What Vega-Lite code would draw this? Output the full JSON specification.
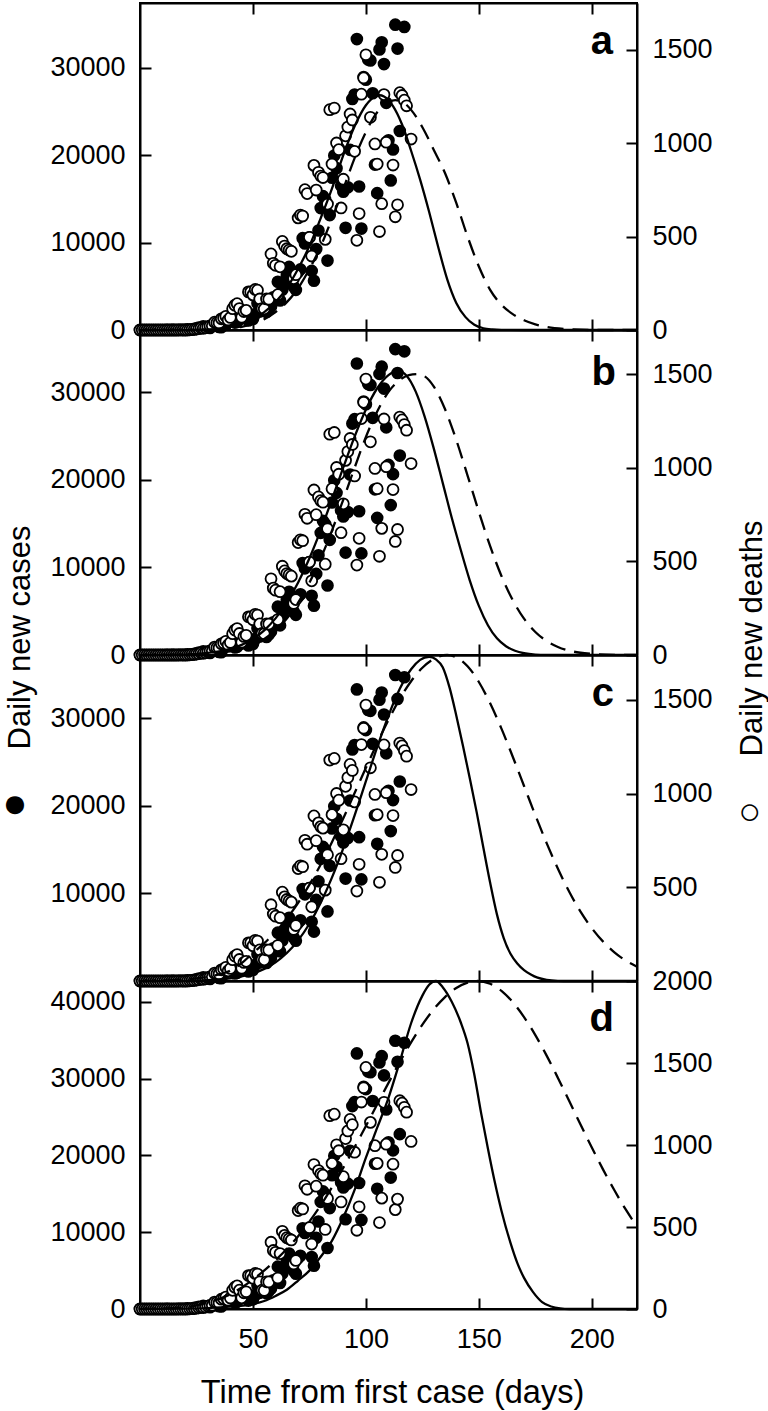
{
"$schema": "https://vega.github.io/schema/vega-lite/v6.json",
"padding": {"left": 0, "top": 1, "right": 0, "bottom": 0},
"background": "white",
"bounds": "flush",
"spacing": 0,
"config": {
  "font": "Liberation Sans",
  "view": {"stroke": "black", "strokeWidth": 2},
  "axis": {"grid": false, "domainColor": "black", "domainWidth": 2, "tickColor": "black", "tickWidth": 2, "tickSize": -11, "labelFont": "Liberation Sans", "labelFontSize": 27, "labelColor": "black", "labelPadding": 26, "labelFlush": false, "labelOverlap": false, "titleFont": "Liberation Sans", "titleFontSize": 31, "titleFontWeight": "normal", "titleColor": "black"},
  "axisBottom": {"labelPadding": 28},
  "text": {"font": "Liberation Sans", "fontSize": 40, "fontWeight": "bold", "color": "black", "align": "right", "baseline": "alphabetic"}
},
"datasets": {
"cases": [{"day":0,"cases":0},{"day":1,"cases":0},{"day":2,"cases":1},{"day":3,"cases":0},{"day":4,"cases":0},{"day":5,"cases":0},{"day":6,"cases":1},{"day":7,"cases":0},{"day":8,"cases":0},{"day":9,"cases":0},{"day":10,"cases":1},{"day":11,"cases":0},{"day":12,"cases":9},{"day":13,"cases":5},{"day":14,"cases":6},{"day":15,"cases":6},{"day":16,"cases":0},{"day":17,"cases":19},{"day":18,"cases":25},{"day":19,"cases":21},{"day":20,"cases":23},{"day":21,"cases":79},{"day":22,"cases":34},{"day":23,"cases":57},{"day":24,"cases":137},{"day":25,"cases":193},{"day":26,"cases":283},{"day":27,"cases":224},{"day":28,"cases":418},{"day":29,"cases":345},{"day":30,"cases":310},{"day":31,"cases":232},{"day":32,"cases":482},{"day":33,"cases":502},{"day":34,"cases":487},{"day":35,"cases":352},{"day":36,"cases":323},{"day":37,"cases":1138},{"day":38,"cases":1119},{"day":39,"cases":1074},{"day":40,"cases":1146},{"day":41,"cases":1222},{"day":42,"cases":852},{"day":43,"cases":926},{"day":44,"cases":1661},{"day":45,"cases":2210},{"day":46,"cases":1930},{"day":47,"cases":1781},{"day":48,"cases":1089},{"day":49,"cases":1442},{"day":50,"cases":1261},{"day":51,"cases":1832},{"day":52,"cases":3058},{"day":53,"cases":2105},{"day":54,"cases":3257},{"day":55,"cases":2917},{"day":56,"cases":2055},{"day":57,"cases":2336},{"day":58,"cases":2678},{"day":59,"cases":3735},{"day":60,"cases":3503},{"day":61,"cases":5514},{"day":62,"cases":3379},{"day":63,"cases":4613},{"day":64,"cases":5385},{"day":65,"cases":6276},{"day":66,"cases":7218},{"day":67,"cases":6209},{"day":68,"cases":4970},{"day":69,"cases":4588},{"day":70,"cases":6633},{"day":71,"cases":6935},{"day":72,"cases":10503},{"day":73,"cases":9888},{"day":74,"cases":10222},{"day":75,"cases":10611},{"day":76,"cases":6760},{"day":77,"cases":5632},{"day":78,"cases":9258},{"day":79,"cases":11385},{"day":80,"cases":13944},{"day":81,"cases":15305},{"day":82,"cases":14919},{"day":83,"cases":7938},{"day":84,"cases":13140},{"day":85,"cases":17408},{"day":86,"cases":19951},{"day":87,"cases":18508},{"day":88,"cases":20803},{"day":89,"cases":16508},{"day":90,"cases":15813},{"day":91,"cases":11687},{"day":92,"cases":16324},{"day":93,"cases":20599},{"day":94,"cases":26417},{"day":95,"cases":26928},{"day":96,"cases":33274},{"day":97,"cases":16409},{"day":98,"cases":11598},{"day":99,"cases":28936},{"day":100,"cases":28633},{"day":101,"cases":30925},{"day":102,"cases":30830},{"day":103,"cases":27075},{"day":104,"cases":18912},{"day":105,"cases":15654},{"day":106,"cases":32091},{"day":107,"cases":32913},{"day":108,"cases":30412},{"day":109,"cases":25982},{"day":110,"cases":21704},{"day":111,"cases":17110},{"day":112,"cases":20647},{"day":113,"cases":34918},{"day":114,"cases":32188},{"day":115,"cases":22765},{"day":117,"cases":34666}],
"deaths": [{"day":0,"deaths":0},{"day":1,"deaths":0},{"day":2,"deaths":0},{"day":3,"deaths":0},{"day":4,"deaths":0},{"day":5,"deaths":0},{"day":6,"deaths":0},{"day":7,"deaths":0},{"day":8,"deaths":0},{"day":9,"deaths":0},{"day":10,"deaths":0},{"day":11,"deaths":0},{"day":12,"deaths":0},{"day":13,"deaths":0},{"day":14,"deaths":0},{"day":15,"deaths":0},{"day":16,"deaths":0},{"day":17,"deaths":0},{"day":18,"deaths":0},{"day":19,"deaths":0},{"day":20,"deaths":0},{"day":21,"deaths":0},{"day":22,"deaths":1},{"day":23,"deaths":3},{"day":24,"deaths":3},{"day":25,"deaths":5},{"day":26,"deaths":7},{"day":27,"deaths":11},{"day":28,"deaths":9},{"day":29,"deaths":12},{"day":30,"deaths":18},{"day":31,"deaths":22},{"day":32,"deaths":23},{"day":33,"deaths":42},{"day":34,"deaths":39},{"day":35,"deaths":37},{"day":36,"deaths":60},{"day":37,"deaths":64},{"day":38,"deaths":73},{"day":39,"deaths":54},{"day":40,"deaths":67},{"day":41,"deaths":114},{"day":42,"deaths":133},{"day":43,"deaths":141},{"day":44,"deaths":115},{"day":45,"deaths":68},{"day":46,"deaths":99},{"day":47,"deaths":105},{"day":48,"deaths":204},{"day":49,"deaths":204},{"day":50,"deaths":188},{"day":51,"deaths":217},{"day":52,"deaths":213},{"day":53,"deaths":166},{"day":54,"deaths":115},{"day":55,"deaths":113},{"day":56,"deaths":166},{"day":57,"deaths":165},{"day":58,"deaths":407},{"day":59,"deaths":357},{"day":60,"deaths":346},{"day":61,"deaths":189},{"day":62,"deaths":338},{"day":63,"deaths":474},{"day":64,"deaths":449},{"day":65,"deaths":435},{"day":66,"deaths":428},{"day":67,"deaths":421},{"day":68,"deaths":275},{"day":69,"deaths":296},{"day":70,"deaths":600},{"day":71,"deaths":615},{"day":72,"deaths":610},{"day":73,"deaths":751},{"day":74,"deaths":730},{"day":75,"deaths":496},{"day":76,"deaths":396},{"day":77,"deaths":881},{"day":78,"deaths":749},{"day":79,"deaths":844},{"day":80,"deaths":824},{"day":81,"deaths":816},{"day":82,"deaths":485},{"day":83,"deaths":674},{"day":84,"deaths":1179},{"day":85,"deaths":888},{"day":86,"deaths":1188},{"day":87,"deaths":1001},{"day":88,"deaths":965},{"day":89,"deaths":653},{"day":90,"deaths":807},{"day":91,"deaths":1039},{"day":92,"deaths":1086},{"day":93,"deaths":1156},{"day":94,"deaths":1124},{"day":95,"deaths":956},{"day":96,"deaths":480},{"day":97,"deaths":623},{"day":98,"deaths":1262},{"day":99,"deaths":1349},{"day":100,"deaths":1473},{"day":102,"deaths":1138},{"day":104,"deaths":996},{"day":105,"deaths":888},{"day":106,"deaths":527},{"day":107,"deaths":676},{"day":108,"deaths":1260},{"day":109,"deaths":1005},{"day":112,"deaths":883},{"day":113,"deaths":606},{"day":114,"deaths":670},{"day":115,"deaths":1270},{"day":116,"deaths":1255},{"day":117,"deaths":1230},{"day":118,"deaths":1200},{"day":120,"deaths":1022}],
"fit_a_cases": [{"day":0,"cases":0},{"day":20,"cases":0},{"day":25,"cases":20},{"day":30,"cases":60},{"day":35,"cases":150},{"day":40,"cases":350},{"day":45,"cases":700},{"day":50,"cases":1250},{"day":55,"cases":2050},{"day":60,"cases":3200},{"day":65,"cases":4800},{"day":70,"cases":7000},{"day":75,"cases":9600},{"day":80,"cases":12800},{"day":85,"cases":16200},{"day":90,"cases":20000},{"day":95,"cases":23300},{"day":100,"cases":25700},{"day":104,"cases":26700},{"day":106,"cases":26850},{"day":108,"cases":26700},{"day":112,"cases":25600},{"day":116,"cases":23500},{"day":120,"cases":20500},{"day":124,"cases":17200},{"day":128,"cases":13500},{"day":132,"cases":9500},{"day":136,"cases":5800},{"day":140,"cases":3100},{"day":144,"cases":1500},{"day":148,"cases":600},{"day":152,"cases":200},{"day":156,"cases":60},{"day":160,"cases":10},{"day":170,"cases":0},{"day":220,"cases":0}],
"fit_a_deaths": [{"day":0,"deaths":0},{"day":25,"deaths":1},{"day":30,"deaths":2},{"day":35,"deaths":4},{"day":40,"deaths":8},{"day":45,"deaths":17},{"day":50,"deaths":33},{"day":55,"deaths":58},{"day":60,"deaths":96},{"day":65,"deaths":149},{"day":70,"deaths":224},{"day":75,"deaths":326},{"day":80,"deaths":448},{"day":85,"deaths":597},{"day":90,"deaths":755},{"day":95,"deaths":920},{"day":100,"deaths":1060},{"day":105,"deaths":1165},{"day":110,"deaths":1218},{"day":113,"deaths":1230},{"day":116,"deaths":1222},{"day":120,"deaths":1178},{"day":125,"deaths":1085},{"day":130,"deaths":965},{"day":135,"deaths":840},{"day":140,"deaths":680},{"day":145,"deaths":500},{"day":150,"deaths":340},{"day":155,"deaths":215},{"day":160,"deaths":135},{"day":165,"deaths":85},{"day":170,"deaths":52},{"day":175,"deaths":30},{"day":180,"deaths":16},{"day":190,"deaths":4},{"day":200,"deaths":0},{"day":220,"deaths":0}],
"fit_b_cases": [{"day":0,"cases":0},{"day":15,"cases":30},{"day":20,"cases":68},{"day":25,"cases":130},{"day":30,"cases":237},{"day":35,"cases":414},{"day":40,"cases":705},{"day":45,"cases":1160},{"day":50,"cases":1840},{"day":55,"cases":2820},{"day":60,"cases":4180},{"day":65,"cases":5980},{"day":70,"cases":8270},{"day":75,"cases":11040},{"day":80,"cases":14250},{"day":85,"cases":17780},{"day":90,"cases":21420},{"day":95,"cases":24930},{"day":100,"cases":28030},{"day":105,"cases":30450},{"day":110,"cases":31950},{"day":114.5,"cases":32400},{"day":118,"cases":31880},{"day":122,"cases":30090},{"day":126,"cases":27220},{"day":130,"cases":23620},{"day":134,"cases":19650},{"day":138,"cases":15660},{"day":142,"cases":11980},{"day":146,"cases":8500},{"day":150,"cases":5600},{"day":154,"cases":3400},{"day":158,"cases":1900},{"day":162,"cases":1000},{"day":166,"cases":480},{"day":170,"cases":200},{"day":175,"cases":50},{"day":180,"cases":10},{"day":190,"cases":0},{"day":220,"cases":0}],
"fit_b_deaths": [{"day":0,"deaths":0},{"day":25,"deaths":3},{"day":30,"deaths":6},{"day":35,"deaths":11},{"day":40,"deaths":19},{"day":45,"deaths":33},{"day":50,"deaths":54},{"day":55,"deaths":86},{"day":60,"deaths":132},{"day":65,"deaths":195},{"day":70,"deaths":279},{"day":75,"deaths":386},{"day":80,"deaths":516},{"day":85,"deaths":665},{"day":90,"deaths":830},{"day":95,"deaths":1000},{"day":100,"deaths":1164},{"day":105,"deaths":1300},{"day":110,"deaths":1405},{"day":115,"deaths":1468},{"day":119,"deaths":1494},{"day":123,"deaths":1500},{"day":126,"deaths":1488},{"day":130,"deaths":1434},{"day":135,"deaths":1313},{"day":140,"deaths":1148},{"day":145,"deaths":958},{"day":150,"deaths":764},{"day":155,"deaths":581},{"day":160,"deaths":422},{"day":165,"deaths":293},{"day":170,"deaths":194},{"day":175,"deaths":123},{"day":180,"deaths":75},{"day":185,"deaths":43},{"day":190,"deaths":23},{"day":195,"deaths":12},{"day":200,"deaths":6},{"day":210,"deaths":1},{"day":220,"deaths":0}],
"fit_c_cases": [{"day":0,"cases":0},{"day":10,"cases":5},{"day":15,"cases":12},{"day":20,"cases":27},{"day":25,"cases":53},{"day":30,"cases":98},{"day":35,"cases":178},{"day":40,"cases":311},{"day":45,"cases":528},{"day":50,"cases":865},{"day":55,"cases":1380},{"day":60,"cases":2130},{"day":65,"cases":3190},{"day":70,"cases":4640},{"day":75,"cases":6530},{"day":80,"cases":8930},{"day":85,"cases":11820},{"day":90,"cases":15170},{"day":95,"cases":18890},{"day":100,"cases":22800},{"day":105,"cases":26690},{"day":110,"cases":30290},{"day":115,"cases":33340},{"day":120,"cases":35570},{"day":124,"cases":36640},{"day":128,"cases":37000},{"day":131,"cases":36700},{"day":134,"cases":35800},{"day":137,"cases":33500},{"day":140,"cases":30300},{"day":143,"cases":26800},{"day":146,"cases":23100},{"day":149,"cases":19300},{"day":152,"cases":15200},{"day":155,"cases":11200},{"day":158,"cases":7600},{"day":161,"cases":4900},{"day":164,"cases":3100},{"day":167,"cases":2000},{"day":170,"cases":1250},{"day":173,"cases":750},{"day":176,"cases":380},{"day":180,"cases":130},{"day":185,"cases":20},{"day":190,"cases":0},{"day":220,"cases":0}],
"fit_c_deaths": [{"day":0,"deaths":0},{"day":20,"deaths":8},{"day":25,"deaths":14},{"day":30,"deaths":22},{"day":35,"deaths":35},{"day":40,"deaths":55},{"day":45,"deaths":95},{"day":50,"deaths":150},{"day":55,"deaths":202},{"day":60,"deaths":262},{"day":65,"deaths":333},{"day":70,"deaths":417},{"day":75,"deaths":514},{"day":80,"deaths":622},{"day":85,"deaths":742},{"day":90,"deaths":869},{"day":95,"deaths":1003},{"day":100,"deaths":1138},{"day":105,"deaths":1270},{"day":110,"deaths":1394},{"day":115,"deaths":1506},{"day":120,"deaths":1600},{"day":125,"deaths":1672},{"day":130,"deaths":1719},{"day":136,"deaths":1740},{"day":140,"deaths":1728},{"day":145,"deaths":1680},{"day":150,"deaths":1596},{"day":155,"deaths":1482},{"day":160,"deaths":1347},{"day":165,"deaths":1197},{"day":170,"deaths":1041},{"day":175,"deaths":885},{"day":180,"deaths":736},{"day":185,"deaths":599},{"day":190,"deaths":476},{"day":195,"deaths":370},{"day":200,"deaths":282},{"day":205,"deaths":210},{"day":210,"deaths":153},{"day":215,"deaths":109},{"day":220,"deaths":76}],
"fit_d_cases": [{"day":0,"cases":0},{"day":20,"cases":40},{"day":30,"cases":120},{"day":40,"cases":300},{"day":50,"cases":650},{"day":55,"cases":1045},{"day":60,"cases":1700},{"day":65,"cases":2500},{"day":70,"cases":3700},{"day":75,"cases":5000},{"day":80,"cases":6800},{"day":85,"cases":8900},{"day":90,"cases":11900},{"day":95,"cases":15500},{"day":100,"cases":19700},{"day":105,"cases":23600},{"day":110,"cases":27500},{"day":115,"cases":32200},{"day":120,"cases":37200},{"day":125,"cases":40800},{"day":128,"cases":42200},{"day":131,"cases":42700},{"day":134,"cases":41900},{"day":138,"cases":40000},{"day":142,"cases":37300},{"day":145,"cases":34600},{"day":148,"cases":30500},{"day":151,"cases":25500},{"day":154,"cases":20900},{"day":157,"cases":16600},{"day":160,"cases":12800},{"day":164,"cases":8600},{"day":167,"cases":6000},{"day":170,"cases":4050},{"day":174,"cases":2200},{"day":178,"cases":900},{"day":182,"cases":330},{"day":186,"cases":80},{"day":190,"cases":0},{"day":220,"cases":0}],
"fit_d_deaths": [{"day":0,"deaths":0},{"day":20,"deaths":10},{"day":30,"deaths":40},{"day":40,"deaths":90},{"day":50,"deaths":180},{"day":60,"deaths":297},{"day":70,"deaths":444},{"day":80,"deaths":633},{"day":90,"deaths":861},{"day":100,"deaths":1116},{"day":110,"deaths":1379},{"day":115,"deaths":1506},{"day":120,"deaths":1626},{"day":125,"deaths":1734},{"day":130,"deaths":1827},{"day":135,"deaths":1902},{"day":140,"deaths":1957},{"day":145,"deaths":1990},{"day":149.5,"deaths":2000},{"day":155,"deaths":1983},{"day":160,"deaths":1940},{"day":165,"deaths":1871},{"day":170,"deaths":1780},{"day":175,"deaths":1670},{"day":180,"deaths":1545},{"day":185,"deaths":1409},{"day":190,"deaths":1268},{"day":195,"deaths":1125},{"day":200,"deaths":985},{"day":205,"deaths":850},{"day":210,"deaths":724},{"day":215,"deaths":607},{"day":220,"deaths":503}]
},
"vconcat": [
{
  "width": 497, "height": 327,
  "layer": [
    {"data": {"name": "cases"}, "mark": {"type": "point", "shape": "circle", "filled": true, "color": "black", "size": 160, "opacity": 1},
     "encoding": {
       "x": {"field": "day", "type": "quantitative", "scale": {"domain": [0, 220], "nice": false, "zero": false}, "axis": {"orient": "bottom", "values": [50, 100, 150, 200], "labels": false, "title": null}},
       "y": {"field": "cases", "type": "quantitative", "scale": {"domain": [0, 37400], "nice": false}, "axis": {"orient": "left", "values": [0, 10000, 20000, 30000], "format": "d", "title": null}}}},
    {"data": {"name": "deaths"}, "mark": {"type": "point", "shape": "circle", "filled": true, "fill": "white", "stroke": "black", "strokeWidth": 1.8, "size": 120, "opacity": 1},
     "encoding": {
       "x": {"field": "day", "type": "quantitative", "scale": {"domain": [0, 220], "nice": false, "zero": false}, "axis": {"orient": "top", "values": [50, 100, 150, 200], "labels": false, "title": null}},
       "y": {"field": "deaths", "type": "quantitative", "scale": {"domain": [0, 1750], "nice": false}, "axis": {"orient": "right", "values": [0, 500, 1000, 1500], "format": "d", "title": null}}}},
    {"data": {"name": "fit_a_cases"}, "mark": {"type": "line", "color": "black", "strokeWidth": 2.3, "interpolate": "monotone"},
     "encoding": {
       "x": {"field": "day", "type": "quantitative", "scale": {"domain": [0, 220], "nice": false, "zero": false}, "axis": null},
       "y": {"field": "cases", "type": "quantitative", "scale": {"domain": [0, 37400], "nice": false}, "axis": null}}},
    {"data": {"name": "fit_a_deaths"}, "mark": {"type": "line", "color": "black", "strokeWidth": 2.3, "strokeDash": [16, 9], "interpolate": "monotone"},
     "encoding": {
       "x": {"field": "day", "type": "quantitative", "scale": {"domain": [0, 220], "nice": false, "zero": false}, "axis": null},
       "y": {"field": "deaths", "type": "quantitative", "scale": {"domain": [0, 1750], "nice": false}, "axis": null}}},
    {"data": {"values": [{}]}, "mark": {"type": "text", "text": "a"},
     "encoding": {
       "x": {"datum": 209.4, "type": "quantitative", "scale": {"domain": [0, 220], "nice": false, "zero": false}, "axis": null},
       "y": {"datum": 31570, "type": "quantitative", "scale": {"domain": [0, 37400], "nice": false}, "axis": null}}}
  ],
  "resolve": {"scale": {"y": "independent"}, "axis": {"x": "independent", "y": "independent"}}
},
{
  "width": 497, "height": 325,
  "layer": [
    {"data": {"name": "cases"}, "mark": {"type": "point", "shape": "circle", "filled": true, "color": "black", "size": 160, "opacity": 1},
     "encoding": {
       "x": {"field": "day", "type": "quantitative", "scale": {"domain": [0, 220], "nice": false, "zero": false}, "axis": {"orient": "bottom", "values": [50, 100, 150, 200], "labels": false, "title": null}},
       "y": {"field": "cases", "type": "quantitative", "scale": {"domain": [0, 37100], "nice": false}, "axis": {"orient": "left", "values": [0, 10000, 20000, 30000], "format": "d", "title": "Daily new cases", "titleAngle": 270, "titleAlign": "left", "titleBaseline": "alphabetic", "titleX": -111, "titleY": 419}}}},
    {"data": {"name": "deaths"}, "mark": {"type": "point", "shape": "circle", "filled": true, "fill": "white", "stroke": "black", "strokeWidth": 1.8, "size": 120, "opacity": 1},
     "encoding": {
       "x": {"field": "day", "type": "quantitative", "scale": {"domain": [0, 220], "nice": false, "zero": false}, "axis": {"orient": "top", "values": [50, 100, 150, 200], "labels": false, "title": null}},
       "y": {"field": "deaths", "type": "quantitative", "scale": {"domain": [0, 1735], "nice": false}, "axis": {"orient": "right", "values": [0, 500, 1000, 1500], "format": "d", "title": "Daily new deaths", "titleAngle": 270, "titleAlign": "left", "titleBaseline": "alphabetic", "titleX": 124, "titleY": 426}}}},
    {"data": {"name": "fit_b_cases"}, "mark": {"type": "line", "color": "black", "strokeWidth": 2.3, "interpolate": "monotone"},
     "encoding": {
       "x": {"field": "day", "type": "quantitative", "scale": {"domain": [0, 220], "nice": false, "zero": false}, "axis": null},
       "y": {"field": "cases", "type": "quantitative", "scale": {"domain": [0, 37100], "nice": false}, "axis": null}}},
    {"data": {"name": "fit_b_deaths"}, "mark": {"type": "line", "color": "black", "strokeWidth": 2.3, "strokeDash": [16, 9], "interpolate": "monotone"},
     "encoding": {
       "x": {"field": "day", "type": "quantitative", "scale": {"domain": [0, 220], "nice": false, "zero": false}, "axis": null},
       "y": {"field": "deaths", "type": "quantitative", "scale": {"domain": [0, 1735], "nice": false}, "axis": null}}},
    {"data": {"values": [{}]}, "mark": {"type": "text", "text": "b"},
     "encoding": {
       "x": {"datum": 210.7, "type": "quantitative", "scale": {"domain": [0, 220], "nice": false, "zero": false}, "axis": null},
       "y": {"datum": 30820, "type": "quantitative", "scale": {"domain": [0, 37100], "nice": false}, "axis": null}}}
  ],
  "resolve": {"scale": {"y": "independent"}, "axis": {"x": "independent", "y": "independent"}}
},
{
  "width": 497, "height": 326,
  "layer": [
    {"data": {"name": "cases"}, "mark": {"type": "point", "shape": "circle", "filled": true, "color": "black", "size": 160, "opacity": 1},
     "encoding": {
       "x": {"field": "day", "type": "quantitative", "scale": {"domain": [0, 220], "nice": false, "zero": false}, "axis": {"orient": "bottom", "values": [50, 100, 150, 200], "labels": false, "title": null}},
       "y": {"field": "cases", "type": "quantitative", "scale": {"domain": [0, 37200], "nice": false}, "axis": {"orient": "left", "values": [10000, 20000, 30000], "format": "d", "title": "●", "titleFontSize": 42, "titleAngle": 0, "titleAlign": "center", "titleBaseline": "middle", "titleX": -125.5, "titleY": 148}}}},
    {"data": {"name": "deaths"}, "mark": {"type": "point", "shape": "circle", "filled": true, "fill": "white", "stroke": "black", "strokeWidth": 1.8, "size": 120, "opacity": 1},
     "encoding": {
       "x": {"field": "day", "type": "quantitative", "scale": {"domain": [0, 220], "nice": false, "zero": false}, "axis": {"orient": "top", "values": [50, 100, 150, 200], "labels": false, "title": null}},
       "y": {"field": "deaths", "type": "quantitative", "scale": {"domain": [0, 1740], "nice": false}, "axis": {"orient": "right", "values": [500, 1000, 1500], "format": "d", "title": "○", "titleFontSize": 38, "titleAngle": 0, "titleAlign": "center", "titleBaseline": "middle", "titleX": 112.3, "titleY": 157}}}},
    {"data": {"name": "fit_c_cases"}, "mark": {"type": "line", "color": "black", "strokeWidth": 2.3, "interpolate": "monotone"},
     "encoding": {
       "x": {"field": "day", "type": "quantitative", "scale": {"domain": [0, 220], "nice": false, "zero": false}, "axis": null},
       "y": {"field": "cases", "type": "quantitative", "scale": {"domain": [0, 37200], "nice": false}, "axis": null}}},
    {"data": {"name": "fit_c_deaths"}, "mark": {"type": "line", "color": "black", "strokeWidth": 2.3, "strokeDash": [16, 9], "interpolate": "monotone"},
     "encoding": {
       "x": {"field": "day", "type": "quantitative", "scale": {"domain": [0, 220], "nice": false, "zero": false}, "axis": null},
       "y": {"field": "deaths", "type": "quantitative", "scale": {"domain": [0, 1740], "nice": false}, "axis": null}}},
    {"data": {"values": [{}]}, "mark": {"type": "text", "text": "c"},
     "encoding": {
       "x": {"datum": 209.8, "type": "quantitative", "scale": {"domain": [0, 220], "nice": false, "zero": false}, "axis": null},
       "y": {"datum": 31380, "type": "quantitative", "scale": {"domain": [0, 37200], "nice": false}, "axis": null}}}
  ],
  "resolve": {"scale": {"y": "independent"}, "axis": {"x": "independent", "y": "independent"}}
},
{
  "width": 497, "height": 328,
  "layer": [
    {"data": {"name": "cases"}, "mark": {"type": "point", "shape": "circle", "filled": true, "color": "black", "size": 160, "opacity": 1},
     "encoding": {
       "x": {"field": "day", "type": "quantitative", "scale": {"domain": [0, 220], "nice": false, "zero": false}, "axis": {"orient": "bottom", "values": [50, 100, 150, 200], "labels": true, "title": "Time from first case (days)", "titleFontSize": 32.5, "titleAlign": "center", "titleBaseline": "alphabetic", "titleX": 252, "titleY": 93}},
       "y": {"field": "cases", "type": "quantitative", "scale": {"domain": [0, 42700], "nice": false}, "axis": {"orient": "left", "values": [0, 10000, 20000, 30000, 40000], "format": "d", "title": null}}}},
    {"data": {"name": "deaths"}, "mark": {"type": "point", "shape": "circle", "filled": true, "fill": "white", "stroke": "black", "strokeWidth": 1.8, "size": 120, "opacity": 1},
     "encoding": {
       "x": {"field": "day", "type": "quantitative", "scale": {"domain": [0, 220], "nice": false, "zero": false}, "axis": {"orient": "top", "values": [50, 100, 150, 200], "labels": false, "title": null}},
       "y": {"field": "deaths", "type": "quantitative", "scale": {"domain": [0, 2000], "nice": false}, "axis": {"orient": "right", "values": [0, 500, 1000, 1500, 2000], "format": "d", "title": null}}}},
    {"data": {"name": "fit_d_cases"}, "mark": {"type": "line", "color": "black", "strokeWidth": 2.3, "interpolate": "monotone"},
     "encoding": {
       "x": {"field": "day", "type": "quantitative", "scale": {"domain": [0, 220], "nice": false, "zero": false}, "axis": null},
       "y": {"field": "cases", "type": "quantitative", "scale": {"domain": [0, 42700], "nice": false}, "axis": null}}},
    {"data": {"name": "fit_d_deaths"}, "mark": {"type": "line", "color": "black", "strokeWidth": 2.3, "strokeDash": [16, 9], "interpolate": "monotone"},
     "encoding": {
       "x": {"field": "day", "type": "quantitative", "scale": {"domain": [0, 220], "nice": false, "zero": false}, "axis": null},
       "y": {"field": "deaths", "type": "quantitative", "scale": {"domain": [0, 2000], "nice": false}, "axis": null}}},
    {"data": {"values": [{}]}, "mark": {"type": "text", "text": "d"},
     "encoding": {
       "x": {"datum": 209.8, "type": "quantitative", "scale": {"domain": [0, 220], "nice": false, "zero": false}, "axis": null},
       "y": {"datum": 36190, "type": "quantitative", "scale": {"domain": [0, 42700], "nice": false}, "axis": null}}}
  ],
  "resolve": {"scale": {"y": "independent"}, "axis": {"x": "independent", "y": "independent"}}
}
]
}
